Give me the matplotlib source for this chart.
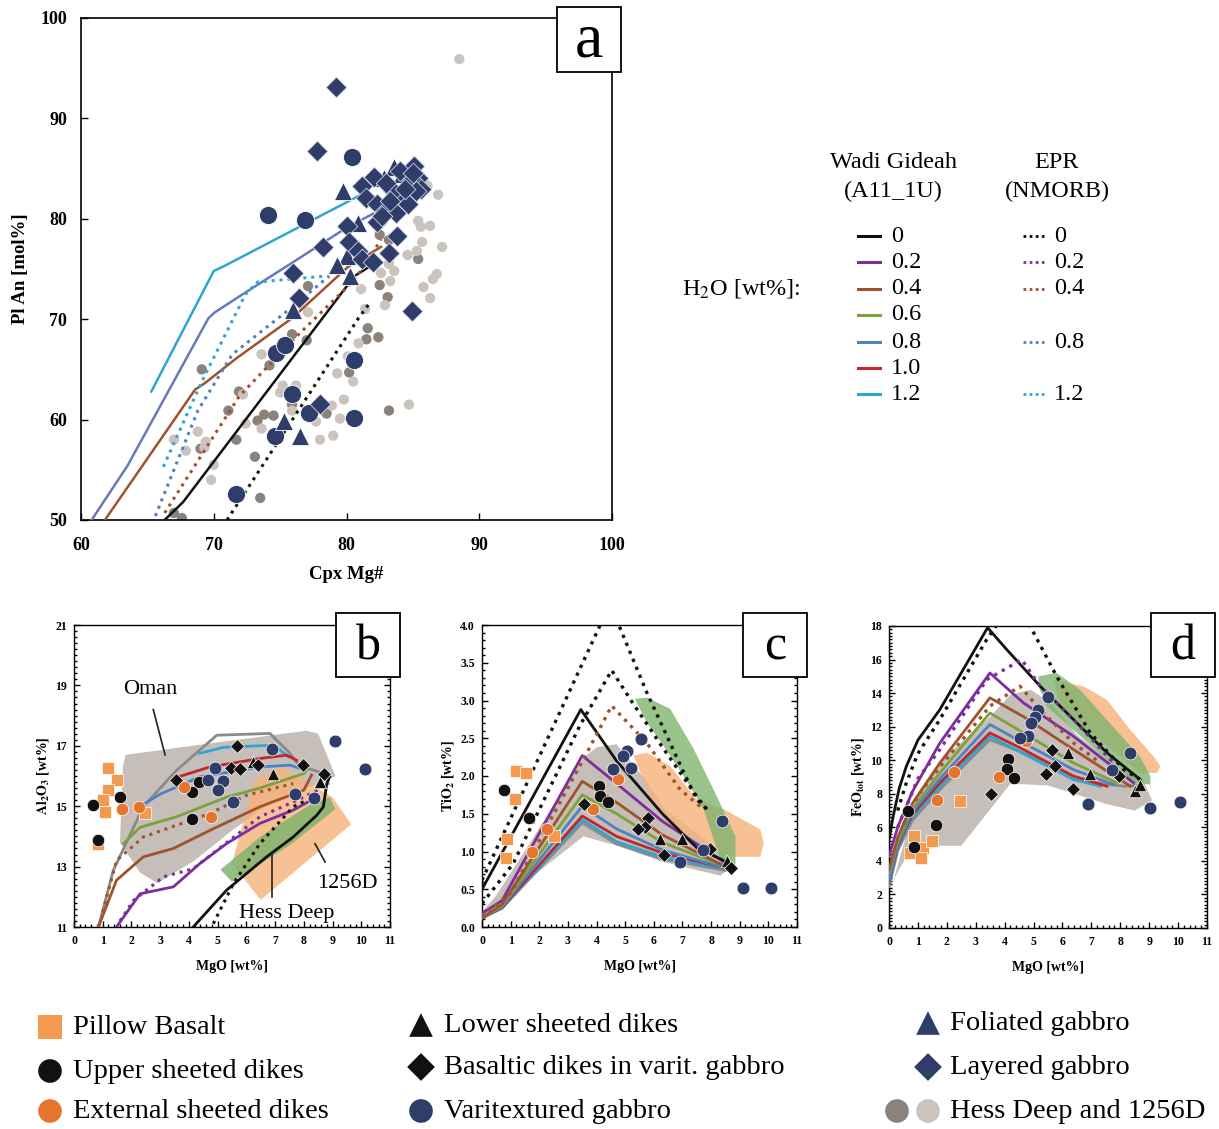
import numpy as np
import matplotlib
matplotlib.use('Agg')
import matplotlib.pyplot as plt
from matplotlib.patches import Polygon, Rectangle
from matplotlib.ticker import MultipleLocator, FixedLocator, FormatStrFormatter

plt.rcParams['font.family'] = ['Liberation Serif', 'DejaVu Serif']
plt.rcParams['mathtext.fontset'] = 'stix'

# ---------------- colours ----------------
C_NAVY = '#2f3d6b'
C_GD = '#8a827b'
C_GL = '#cbc4be'
C_PB = '#f39a50'
C_EXT = '#e5742c'
LC = {0: '#111111', 0.2: '#7b2f9e', 0.4: '#a0522d', 0.6: '#7ea13c',
      0.8: '#4d82c4', 1.0: '#c0282d', 1.2: '#2ea7cf'}
C_A08 = '#6a79ba'

# ---------------- panel a data ----------------
a_wg0_x = [66.3, 67.7, 80.6, 82.3]
a_wg0_y = [50.0, 51.8, 74.3, 75.7]
a_wg04_x = [61.8, 68.6, 69.3, 71.7, 75.9, 80.1, 82.6]
a_wg04_y = [50.0, 63.0, 63.6, 66.1, 70.1, 75.2, 77.2]
a_wg08_x = [60.8, 63.5, 69.6, 70.1, 72.2, 76.0, 80.1, 82.0]
a_wg08_y = [50.0, 55.4, 70.1, 70.7, 72.5, 75.7, 79.2, 80.5]
a_wg12_x = [65.3, 70.0, 70.8, 81.1]
a_wg12_y = [62.8, 74.8, 75.3, 82.4]
a_ep0_x = [71.0, 80.9, 81.8]
a_ep0_y = [50.0, 70.1, 71.7]
a_ep04_x = [66.3, 71.9, 76.4, 80.6, 82.6]
a_ep04_y = [50.7, 62.3, 68.5, 73.9, 77.9]
a_ep08_x = [65.6, 68.8, 71.4, 75.9, 78.7]
a_ep08_y = [50.4, 60.9, 66.5, 71.2, 74.3]
a_ep12_x = [66.2, 69.1, 72.4, 73.3, 78.4]
a_ep12_y = [55.3, 63.8, 72.5, 73.7, 74.3]

a_var_x = [74.1, 76.9, 80.4, 74.7, 75.4, 80.6, 75.9, 77.2, 74.6, 80.6, 71.7]
a_var_y = [80.4, 79.9, 86.2, 66.6, 67.4, 65.9, 62.5, 60.7, 58.4, 60.2, 52.6]
a_fol_x = [79.7, 83.6, 82.8, 80.9, 80.0, 79.3, 80.3, 76.0, 75.3, 76.5, 84.2, 85.0]
a_fol_y = [82.8, 85.2, 84.1, 79.6, 76.3, 75.4, 74.3, 70.9, 59.9, 58.4, 84.5, 85.5]
a_lay_x = [79.2, 77.8, 82.1, 81.2, 81.5, 82.3, 82.9, 83.7, 84.2, 85.1, 85.4, 84.9,
           85.6, 85.2, 84.6, 83.5, 82.3, 80.0, 80.2, 78.2, 80.9, 81.2, 82.0, 83.2,
           83.8, 76.0, 76.4, 84.9, 78.0, 83.0, 84.0, 85.0, 83.3, 84.4, 82.7]
a_lay_y = [93.1, 86.8, 84.2, 83.3, 82.1, 81.5, 80.8, 80.6, 82.2, 85.3, 84.1, 83.9,
           83.0, 82.8, 81.5, 82.8, 79.7, 79.3, 77.7, 77.2, 76.8, 76.0, 75.7, 76.6,
           78.3, 74.6, 72.1, 70.8, 61.6, 83.6, 84.8, 84.6, 81.8, 83.0, 80.3]
a_hd_x = [82.5, 83.2, 85.4, 77.1, 82.5, 83.1, 75.9, 77.0, 81.6, 81.5, 82.4, 69.1,
          74.2, 80.2, 71.9, 75.9, 78.5, 71.1, 73.3, 73.8, 74.5, 83.2, 69.0, 71.7,
          73.1, 73.5, 67.0, 67.6]
a_hd_y = [78.4, 77.9, 76.0, 73.3, 73.4, 72.2, 68.5, 67.9, 69.1, 68.0, 68.2, 65.0,
          65.4, 64.7, 62.8, 61.5, 60.6, 60.9, 59.9, 60.5, 60.4, 60.9, 57.1, 58.0,
          56.3, 52.2, 50.7, 50.2]
a_hl_x = [88.5, 86.9, 86.1, 85.4, 85.6, 86.3, 85.7, 87.2, 84.6, 85.3, 83.2, 83.6,
          82.6, 83.3, 86.8, 86.5, 85.8, 86.3, 81.1, 81.4, 82.9, 77.1, 80.9, 80.1,
          80.5, 79.3, 73.6, 75.2, 76.2, 72.2, 79.8, 84.7, 78.9, 79.5, 79.0, 78.0,
          77.7, 72.4, 73.6, 68.8, 67.0, 67.9, 69.4, 70.0, 69.8, 69.3, 75.0, 75.9]
a_hl_y = [95.9, 82.4, 83.3, 79.8, 79.2, 79.3, 77.7, 77.2, 76.4, 76.8, 75.5, 74.8,
          74.6, 73.8, 74.5, 74.0, 73.2, 72.1, 73.0, 71.0, 71.4, 70.7, 67.6, 66.3,
          63.8, 64.6, 66.5, 63.4, 63.4, 62.5, 62.0, 61.5, 61.4, 60.1, 58.4, 58.0,
          59.8, 59.6, 59.1, 58.8, 58.0, 56.9, 57.8, 55.5, 54.0, 57.2, 62.7, 60.9]

# ---------------- panel b data (Al2O3) ----------------
b_yticks = [11, 13, 15, 17, 19, 21]
b_oman = [(1.8, 16.7), (4.5, 17.05), (8.1, 17.5), (8.5, 17.4), (9.1, 16.0), (8.7, 15.8),
          (7.0, 15.2), (5.5, 14.2), (4.2, 13.2), (2.9, 12.45), (2.3, 12.8),
          (1.6, 13.8), (1.7, 16.3)]
b_1256 = [(5.5, 13.1), (6.3, 15.9), (7.2, 16.3), (9.0, 15.3), (9.65, 14.4), (6.5, 11.9)]
b_hess = [(5.1, 12.9), (5.5, 12.5), (7.5, 13.7), (9.1, 14.9), (8.9, 15.3), (8.3, 15.1),
          (6.5, 14.0)]
b_lines = {
    'grey': ([0.85, 1.37, 2.41, 3.57, 4.97, 6.82, 7.52, 7.87, 8.33, 8.68, 8.85],
             [11.0, 12.88, 14.98, 16.19, 17.35, 17.41, 16.75, 16.3, 16.2, 16.08, 15.75]),
    1.2: ([4.38, 5.2, 6.95, 7.46], [16.75, 16.95, 17.02, 16.64]),
    1.0: ([3.63, 4.73, 6.47, 7.4, 7.75], [15.97, 16.3, 16.58, 16.69, 16.52]),
    0.8: ([2.47, 3.0, 4.38, 6.47, 7.52, 7.87], [15.09, 15.4, 15.97, 16.3, 16.36, 16.25]),
    0.6: ([1.72, 2.3, 3.57, 5.31, 6.47, 8.0, 8.16], [13.76, 14.3, 14.65, 15.3, 15.6, 16.08, 16.3]),
    0.4: ([0.85, 1.48, 2.41, 3.46, 4.73, 6.47, 8.0, 8.27],
          [11.0, 12.55, 13.32, 13.6, 14.2, 14.98, 15.53, 16.03]),
    0.2: ([1.48, 2.3, 3.46, 4.38, 5.31, 6.47, 7.63, 8.45],
          [11.0, 12.1, 12.33, 13.1, 13.76, 14.43, 14.87, 15.3]),
    0: ([4.15, 5.31, 6.7, 7.63, 8.45, 8.68, 8.8, 8.9],
        [11.0, 12.22, 13.32, 13.98, 14.7, 14.98, 15.75, 15.97]),
}
b_epr = {
    0.4: ([1.0, 1.48, 2.41, 3.57, 4.73, 6.0, 7.63], [11.5, 13.2, 13.98, 14.37, 14.76, 15.36, 15.75]),
    0.2: ([1.6, 2.07, 3.11, 4.15, 4.97, 6.47, 7.63, 8.5],
          [11.2, 11.88, 12.66, 12.93, 13.54, 14.65, 15.14, 15.53]),
    0: ([4.85, 5.55, 6.47, 7.63, 8.1], [11.11, 12.44, 13.76, 14.98, 15.2]),
}
b_pb_x = [1.19, 1.48, 1.19, 1.02, 1.08, 2.47, 0.85]
b_pb_y = [16.25, 15.86, 15.53, 15.2, 14.81, 14.76, 13.76]
b_usd_x = [0.67, 1.6, 0.85, 4.1, 4.36, 4.1]
b_usd_y = [15.03, 15.3, 13.87, 15.47, 15.8, 14.56]
b_ext_x = [1.66, 2.27, 3.83, 4.76]
b_ext_y = [14.92, 14.98, 15.64, 14.65]
b_lsd_x = [6.22, 6.94, 8.58]
b_lsd_y = [16.47, 16.08, 15.8]
b_bd_x = [3.54, 5.68, 5.45, 5.78, 6.42, 7.96, 8.71]
b_bd_y = [15.86, 16.99, 16.25, 16.23, 16.36, 16.36, 16.05]
b_var_x = [6.88, 4.91, 5.2, 4.68, 5.02, 5.55, 7.71, 8.35, 9.08, 10.13]
b_var_y = [16.88, 16.28, 15.84, 15.86, 15.53, 15.14, 15.4, 15.28, 17.15, 16.23]

# ---------------- panel c data (TiO2) ----------------
c_grey = [(0.05, 0.08), (1.09, 0.47), (3.54, 1.2), (4.7, 1.08), (6.34, 0.86), (8.32, 0.68),
          (8.75, 0.8), (8.67, 0.9), (6.34, 1.58), (5.75, 1.93), (4.7, 2.42), (4.0, 2.38),
          (3.54, 2.24), (1.67, 1.11), (0.5, 0.42), (0.0, 0.2)]
c_hess = [(5.34, 3.02), (5.75, 3.04), (6.57, 2.89), (7.39, 2.36), (8.2, 1.73), (8.85, 1.2),
          (8.85, 0.84), (8.44, 0.76), (7.74, 1.56), (7.04, 2.0), (6.34, 2.4), (5.75, 2.71)]
c_1256 = [(5.29, 2.27), (5.75, 2.31), (6.57, 2.13), (7.5, 1.69), (8.44, 1.56), (9.72, 1.29),
          (9.84, 1.11), (9.72, 0.93), (8.67, 0.93), (6.57, 1.33), (5.87, 1.73)]
c_mx = [0.0, 0.7, 3.5, 4.7, 6.3, 8.5]
c_lines = {
    'grey': [0.12, 0.25, 1.38, 1.10, 0.90, 0.75],
    1.2: [0.12, 0.25, 1.42, 1.13, 0.93, 0.77],
    1.0: [0.12, 0.26, 1.47, 1.20, 0.98, 0.78],
    0.8: [0.12, 0.27, 1.60, 1.30, 1.02, 0.78],
    0.6: [0.12, 0.28, 1.75, 1.50, 1.12, 0.80],
    0.4: [0.12, 0.30, 1.93, 1.65, 1.22, 0.80],
    0.2: [0.18, 0.35, 2.27, 1.90, 1.40, 0.85],
}
c_black_x = [0.0, 3.45, 4.7, 6.3, 7.5, 8.6]
c_black_y = [0.5, 2.88, 2.2, 1.5, 1.05, 0.85]
c_ep_a_x = [0.0, 4.47, 5.75, 7.04, 7.5, 7.85]
c_ep_a_y = [0.62, 4.28, 3.11, 2.05, 1.69, 1.56]
c_ep_b_x = [0.0, 1.09, 3.42, 4.53, 5.17, 6.34, 7.5, 7.85]
c_ep_b_y = [0.31, 0.84, 2.67, 3.4, 3.02, 2.36, 1.73, 1.56]
c_ep_c_x = [0.0, 1.0, 3.54, 4.53, 5.75, 6.92, 7.74]
c_ep_c_y = [0.13, 0.45, 2.22, 2.93, 2.44, 1.82, 1.56]
c_pb_x = [1.18, 1.53, 1.14, 0.88, 0.85, 2.51]
c_pb_y = [2.06, 2.04, 1.69, 1.16, 0.91, 1.2]
c_usd_x = [0.76, 1.63, 4.1, 4.12, 4.39]
c_usd_y = [1.81, 1.44, 1.87, 1.73, 1.65]
c_ext_x = [4.76, 3.89, 2.28, 1.73]
c_ext_y = [1.96, 1.56, 1.3, 1.0]
c_bd_x = [3.56, 5.81, 5.69, 5.46, 6.37, 7.97, 8.7]
c_bd_y = [1.63, 1.44, 1.32, 1.3, 0.96, 1.03, 0.78]
c_lsd_x = [6.2, 6.98, 8.55]
c_lsd_y = [1.16, 1.16, 0.88]
c_var_x = [5.54, 5.05, 4.91, 4.56, 5.19, 8.38, 7.71, 6.9, 9.11, 10.09]
c_var_y = [2.49, 2.33, 2.27, 2.09, 2.11, 1.4, 1.02, 0.86, 0.52, 0.52]

# ---------------- panel d data (FeOtot) ----------------
d_grey = [(0.1, 2.5), (1.0, 8.0), (2.0, 10.3), (3.5, 12.6), (4.2, 13.9), (4.9, 14.2),
          (5.6, 13.4), (6.5, 11.5), (7.8, 9.8), (8.8, 8.8), (9.1, 7.6), (8.5, 7.0),
          (7.5, 7.4), (5.5, 8.5), (4.2, 8.6), (2.5, 4.9), (0.8, 4.9), (0.2, 3.0)]
d_hess = [(5.17, 15.0), (5.8, 15.2), (6.61, 14.2), (7.54, 12.4), (8.69, 10.2), (9.04, 9.05),
          (9.04, 8.55), (8.46, 8.65), (7.54, 10.04), (6.38, 11.8), (5.46, 13.2), (5.17, 14.4)]
d_1256 = [(5.69, 14.8), (6.73, 14.4), (7.54, 13.6), (8.35, 11.8), (9.16, 10.2), (9.39, 9.64),
          (9.27, 9.24), (8.69, 9.24), (6.61, 12.2), (5.92, 13.4)]
d_lines = {
    'grey': ([0.0, 0.3, 0.8, 1.76, 3.49, 5.23, 6.38, 7.19, 8.12, 8.7],
             [2.48, 4.6, 6.4, 8.25, 11.23, 10.04, 9.05, 8.65, 8.45, 8.5]),
    1.2: ([0.0, 0.3, 0.8, 1.76, 3.49, 6.38, 7.31], [2.6, 4.8, 6.6, 8.45, 11.43, 8.85, 8.45]),
    1.0: ([0.0, 0.3, 0.8, 1.76, 3.49, 4.65, 6.38, 7.54], [2.7, 4.9, 6.75, 8.65, 11.63, 10.64, 9.05, 8.45]),
    0.8: ([0.0, 0.3, 0.8, 1.76, 3.49, 4.65, 6.38, 7.77], [2.8, 5.0, 6.9, 8.9, 12.13, 11.03, 9.44, 8.55]),
    0.6: ([0.0, 0.3, 0.8, 1.76, 3.49, 4.65, 6.38, 7.88], [3.28, 5.2, 7.1, 9.24, 12.82, 11.63, 9.84, 8.65]),
    0.4: ([0.0, 0.3, 0.8, 1.76, 3.49, 4.65, 6.38, 8.35], [3.48, 5.4, 7.4, 9.84, 13.72, 12.6, 10.64, 8.45]),
    0.2: ([0.0, 0.3, 0.8, 1.76, 3.49, 4.65, 6.38, 8.46], [4.27, 6.0, 8.1, 11.03, 15.2, 13.42, 11.43, 8.65]),
    0: ([0.0, 0.15, 0.35, 0.6, 1.0, 1.76, 3.41, 4.07, 5.23, 6.38, 7.54, 8.69],
        [5.27, 6.7, 8.3, 9.64, 11.2, 13.02, 17.9, 16.6, 14.41, 12.43, 10.44, 8.85]),
}
d_epr = {
    0.4: ([0.5, 1.0, 1.76, 3.49, 4.53, 5.23, 6.38, 7.31], [6.2, 7.9, 9.6, 13.22, 14.41, 13.02, 11.03, 9.84]),
    0.2: ([0.3, 1.0, 1.76, 3.38, 4.59, 5.23, 6.38, 7.77], [6.0, 8.9, 10.64, 14.8, 16.0, 14.4, 12.43, 9.84]),
    0: ([0.3, 0.6, 1.0, 1.76, 3.38, 4.3, 4.88, 5.8, 6.96, 8.12, 8.69],
        [7.0, 8.65, 10.4, 12.43, 17.2, 19.5, 18.0, 15.0, 11.63, 9.44, 8.85]),
}
d_pb_x = [0.86, 0.72, 1.18, 1.09, 1.5, 2.45]
d_pb_y = [5.5, 4.47, 4.77, 4.17, 5.2, 7.55]
d_usd_x = [0.66, 0.86, 1.62, 4.1, 4.09, 4.32]
d_usd_y = [6.96, 4.83, 6.16, 10.08, 9.48, 8.95]
d_ext_x = [4.73, 3.82, 2.24, 1.66]
d_ext_y = [11.13, 8.99, 9.28, 7.65]
d_bd_x = [3.53, 5.65, 5.75, 5.42, 6.38, 7.94]
d_bd_y = [7.99, 10.58, 9.68, 9.2, 8.29, 9.05]
d_lsd_x = [6.18, 6.94, 8.5, 8.69]
d_lsd_y = [10.44, 9.2, 8.15, 8.55]
d_var_x = [5.51, 5.14, 5.05, 4.9, 4.82, 4.53, 8.35, 7.71, 6.87, 9.04, 10.08]
d_var_y = [13.78, 12.98, 12.58, 12.19, 11.43, 11.33, 10.44, 9.4, 7.42, 7.16, 7.52]

# legend data
h2o_wg = [0, 0.2, 0.4, 0.6, 0.8, 1.0, 1.2]
h2o_wg_lab = ['0', '0.2', '0.4', '0.6', '0.8', '1.0', '1.2']
h2o_epr = [0, 0.2, 0.4, 0.8, 1.2]
h2o_epr_lab = ['0', '0.2', '0.4', '0.8', '1.2']

W, H = 1219, 1129
fig = plt.figure(figsize=(W / 100, H / 100), dpi=100)


def rect(l, t, r, b):
    return [l / W, 1 - b / H, (r - l) / W, (b - t) / H]


DOT = (0, (1, 1.6))


def bold_ticks(ax, size):
    for lab in ax.get_xticklabels() + ax.get_yticklabels():
        lab.set_fontweight('bold')
        lab.set_fontsize(size)


# ================= Panel a =================
ax = fig.add_axes(rect(81, 18, 612, 520))
ax.set_xlim(60, 100)
ax.set_ylim(50, 100)
ax.scatter(a_hd_x, a_hd_y, s=55, c=C_GD, edgecolors='none', zorder=2)
ax.scatter(a_hl_x, a_hl_y, s=55, c=C_GL, edgecolors='none', zorder=2)
lw = 1.8
ax.plot(a_wg0_x, a_wg0_y, color=LC[0], lw=lw, zorder=3)
ax.plot(a_wg04_x, a_wg04_y, color=LC[0.4], lw=lw, zorder=3)
ax.plot(a_wg08_x, a_wg08_y, color=C_A08, lw=lw, zorder=3)
ax.plot(a_wg12_x, a_wg12_y, color=LC[1.2], lw=lw, zorder=3)
ax.plot(a_ep0_x, a_ep0_y, color=LC[0], lw=2.2, ls=DOT, zorder=3)
ax.plot(a_ep04_x, a_ep04_y, color=LC[0.4], lw=2.2, ls=DOT, zorder=3)
ax.plot(a_ep08_x, a_ep08_y, color=LC[0.8], lw=2.2, ls=DOT, zorder=3)
ax.plot(a_ep12_x, a_ep12_y, color=LC[1.2], lw=2.2, ls=DOT, zorder=3)
ax.scatter(a_var_x, a_var_y, s=170, c=C_NAVY, edgecolors='white', linewidths=0.6, zorder=4)
ax.scatter(a_fol_x, a_fol_y, s=170, marker='^', c=C_NAVY, edgecolors='white', linewidths=0.6, zorder=4)
ax.scatter(a_lay_x, a_lay_y, s=110, marker='D', c=C_NAVY, edgecolors='#d0d4e0', linewidths=0.6, zorder=4)
ax.set_xticks([60, 70, 80, 90, 100])
ax.set_yticks([50, 60, 70, 80, 90, 100])
ax.tick_params(direction='in', length=5, width=1)
ax.tick_params(axis='x', pad=12)
ax.tick_params(axis='y', pad=10)
bold_ticks(ax, 13)
for sp in ax.spines.values():
    sp.set_linewidth(1.2)
ax.set_xlabel('Cpx Mg#', fontsize=13.5, fontweight='bold', labelpad=9)
ax.set_ylabel('Pl An [mol%]', fontsize=13.5, fontweight='bold', labelpad=8)


def small_panel(r, ylim, yticks, ymin_, ylabel, fmt=None):
    a = fig.add_axes(rect(*r))
    a.set_xlim(0, 11)
    a.set_ylim(*ylim)
    a.xaxis.set_major_locator(MultipleLocator(1))
    a.xaxis.set_minor_locator(MultipleLocator(0.2))
    a.yaxis.set_major_locator(FixedLocator(yticks))
    a.yaxis.set_minor_locator(MultipleLocator(ymin_))
    if fmt:
        a.yaxis.set_major_formatter(FormatStrFormatter(fmt))
    a.tick_params(which='both', direction='in', top=False, right=True, width=1)
    a.tick_params(which='major', length=4)
    a.tick_params(axis='x', which='major', pad=6)
    a.tick_params(axis='y', which='major', pad=5)
    a.tick_params(which='minor', length=2)
    bold_ticks(a, 8.5)
    for sp in a.spines.values():
        sp.set_linewidth(1.0)
    a.set_xlabel('MgO [wt%]', fontsize=10, fontweight='bold', labelpad=9)
    a.set_ylabel(ylabel, fontsize=10, fontweight='bold', labelpad=3)
    return a


def points(a, pb, usd, ext, lsd, bd, var):
    a.scatter(*pb, s=70, marker='s', c=C_PB, edgecolors='white', linewidths=0.5, zorder=5)
    a.scatter(*usd, s=80, c='#111111', edgecolors='white', linewidths=0.5, zorder=5)
    a.scatter(*ext, s=80, c=C_EXT, edgecolors='white', linewidths=0.5, zorder=5)
    a.scatter(*lsd, s=80, marker='^', c='#111111', edgecolors='white', linewidths=0.5, zorder=5)
    a.scatter(*bd, s=50, marker='D', c='#111111', edgecolors='white', linewidths=0.5, zorder=5)
    a.scatter(*var, s=85, c=C_NAVY, edgecolors='white', linewidths=0.5, zorder=5)


def lc(k):
    return '#8a8a8a' if k == 'grey' else LC[k]


# ================= Panel b =================
bx = small_panel((74, 625, 390, 927), (11, 21), b_yticks, 0.2, r'$\mathbf{Al_2O_3}$ [wt%]')
bx.add_patch(Polygon(b_oman, closed=True, fc='#c6beb8', ec='none', zorder=1))
bx.add_patch(Polygon(b_1256, closed=True, fc='#f7b27a', ec='none', alpha=0.8, zorder=1.5))
bx.add_patch(Polygon(b_hess, closed=True, fc='#7fb46e', ec='none', alpha=0.85, zorder=1.6))
for k, (xs, ys) in b_lines.items():
    bx.plot(xs, ys, color=lc(k), lw=2, zorder=3)
for k, (xs, ys) in b_epr.items():
    bx.plot(xs, ys, color=LC[k], lw=2.2, ls=DOT, zorder=3)
points(bx, (b_pb_x, b_pb_y), (b_usd_x, b_usd_y), (b_ext_x, b_ext_y),
       (b_lsd_x, b_lsd_y), (b_bd_x, b_bd_y), (b_var_x, b_var_y))
bx.text(2.64, 18.85, 'Oman', fontsize=16, ha='center', va='center', zorder=6)
bx.plot([2.76, 3.17], [18.2, 16.7], color='#222222', lw=1.2, zorder=6)
bx.text(9.5, 12.45, '1256D', fontsize=16, ha='center', va='center', zorder=6)
bx.plot([8.39, 8.74], [13.76, 13.15], color='#222222', lw=1.2, zorder=6)
bx.text(7.4, 11.45, 'Hess Deep', fontsize=16, ha='center', va='center', zorder=6)
bx.plot([6.88, 6.88], [13.5, 12.0], color='#222222', lw=1.2, zorder=6)

# ================= Panel c =================
cx = small_panel((482, 625, 797, 927), (0, 4), [0, 0.5, 1, 1.5, 2, 2.5, 3, 3.5, 4], 0.1,
                 r'$\mathbf{TiO_2}$ [wt%]', fmt='%.1f')
cx.add_patch(Polygon(c_grey, closed=True, fc='#c6beb8', ec='none', zorder=1))
cx.add_patch(Polygon(c_1256, closed=True, fc='#f7b27a', ec='none', alpha=0.8, zorder=1.5))
cx.add_patch(Polygon(c_hess, closed=True, fc='#7fb46e', ec='none', alpha=0.8, zorder=1.6))
for k, ys in c_lines.items():
    cx.plot(c_mx, ys, color=lc(k), lw=2, zorder=3)
cx.plot(c_black_x, c_black_y, color=LC[0], lw=2, zorder=3)
cx.plot(c_ep_a_x, c_ep_a_y, color=LC[0], lw=2.4, ls=DOT, zorder=3)
cx.plot(c_ep_b_x, c_ep_b_y, color=LC[0], lw=2.4, ls=DOT, zorder=3)
cx.plot(c_ep_c_x, c_ep_c_y, color=LC[0.4], lw=2.4, ls=DOT, zorder=3)
points(cx, (c_pb_x, c_pb_y), (c_usd_x, c_usd_y), (c_ext_x, c_ext_y),
       (c_lsd_x, c_lsd_y), (c_bd_x, c_bd_y), (c_var_x, c_var_y))

# ================= Panel d =================
dx = small_panel((889, 626, 1207, 928), (0, 18), list(range(0, 19, 2)), 0.2,
                 r'$\mathbf{FeO_{tot}}$ [wt%]')
dx.add_patch(Polygon(d_grey, closed=True, fc='#c6beb8', ec='none', zorder=1))
dx.add_patch(Polygon(d_1256, closed=True, fc='#f7b27a', ec='none', alpha=0.8, zorder=1.5))
dx.add_patch(Polygon(d_hess, closed=True, fc='#7fb46e', ec='none', alpha=0.8, zorder=1.6))
for k, (xs, ys) in d_lines.items():
    dx.plot(xs, ys, color=lc(k), lw=2, zorder=3)
for k, (xs, ys) in d_epr.items():
    dx.plot(xs, ys, color=LC[k], lw=2.4, ls=DOT, zorder=3)
points(dx, (d_pb_x, d_pb_y), (d_usd_x, d_usd_y), (d_ext_x, d_ext_y),
       (d_lsd_x, d_lsd_y), (d_bd_x, d_bd_y), (d_var_x, d_var_y))

# ================= overlay: labels boxes & legends =================
ov = fig.add_axes([0, 0, 1, 1], zorder=10)
ov.set_xlim(0, W)
ov.set_ylim(H, 0)
ov.axis('off')

for lab, (x0, y0, x1, y1), fs in [('a', (557, 7, 621, 72), 46),
                                  ('b', (336, 613, 400, 677), 36),
                                  ('c', (743, 613, 807, 677), 36),
                                  ('d', (1151, 613, 1215, 677), 36)]:
    ov.add_patch(Rectangle((x0, y0), x1 - x0, y1 - y0, fc='white', ec='black', lw=1.3))
    ov.text((x0 + x1) / 2, (y0 + y1) / 2 + 2, lab, fontsize=fs, ha='center', va='center')

# H2O legend
LF = 17.5
ov.text(893, 162, 'Wadi Gideah', fontsize=LF, ha='center', va='center')
ov.text(893, 191, '(A11_1U)', fontsize=LF, ha='center', va='center')
ov.text(1057, 162, 'EPR', fontsize=LF, ha='center', va='center')
ov.text(1057, 191, '(NMORB)', fontsize=LF, ha='center', va='center')
ov.text(682, 289, r'H$_2$O [wt%]:', fontsize=LF, ha='left', va='center')
rows = {0: 236, 0.2: 262, 0.4: 289, 0.6: 315, 0.8: 342, 1.0: 368, 1.2: 394}
for k, lab in zip(h2o_wg, h2o_wg_lab):
    y = rows[k]
    ov.plot([858, 880], [y, y], color=LC[k], lw=2.2)
    ov.text(891, y, lab, fontsize=LF, ha='left', va='center')
for k, lab in zip(h2o_epr, h2o_epr_lab):
    y = rows[k]
    ov.plot([1023, 1044], [y, y], color=LC[k], lw=2, ls=(0, (1, 1.2)))
    ov.text(1054, y, lab, fontsize=LF, ha='left', va='center')

# symbol legend
fs = 20.5
ms = 290
ov.scatter([50], [1027], s=ms, marker='s', c=C_PB, edgecolors='none')
ov.text(73, 1027, 'Pillow Basalt', fontsize=fs, va='center')
ov.scatter([50], [1071], s=ms, marker='o', c='#111111', edgecolors='none')
ov.text(73, 1071, 'Upper sheeted dikes', fontsize=fs, va='center')
ov.scatter([50], [1111], s=ms, marker='o', c=C_EXT, edgecolors='none')
ov.text(73, 1111, 'External sheeted dikes', fontsize=fs, va='center')
ov.scatter([421], [1025], s=ms, marker='^', c='#111111', edgecolors='none')
ov.text(444, 1025, 'Lower sheeted dikes', fontsize=fs, va='center')
ov.scatter([421], [1067], s=200, marker='D', c='#111111', edgecolors='none')
ov.text(444, 1067, 'Basaltic dikes in varit. gabbro', fontsize=fs, va='center')
ov.scatter([421], [1111], s=ms, marker='o', c=C_NAVY, edgecolors='none')
ov.text(444, 1111, 'Varitextured gabbro', fontsize=fs, va='center')
ov.scatter([928], [1023], s=ms, marker='^', c=C_NAVY, edgecolors='none')
ov.text(950, 1023, 'Foliated gabbro', fontsize=fs, va='center')
ov.scatter([928], [1067], s=200, marker='D', c=C_NAVY, edgecolors='none')
ov.text(950, 1067, 'Layered gabbro', fontsize=fs, va='center')
ov.scatter([897], [1111], s=ms, marker='o', c=C_GD, edgecolors='none')
ov.scatter([928], [1111], s=ms, marker='o', c=C_GL, edgecolors='none')
ov.text(950, 1111, 'Hess Deep and 1256D', fontsize=fs, va='center')

fig.savefig('out.png', dpi=100)
